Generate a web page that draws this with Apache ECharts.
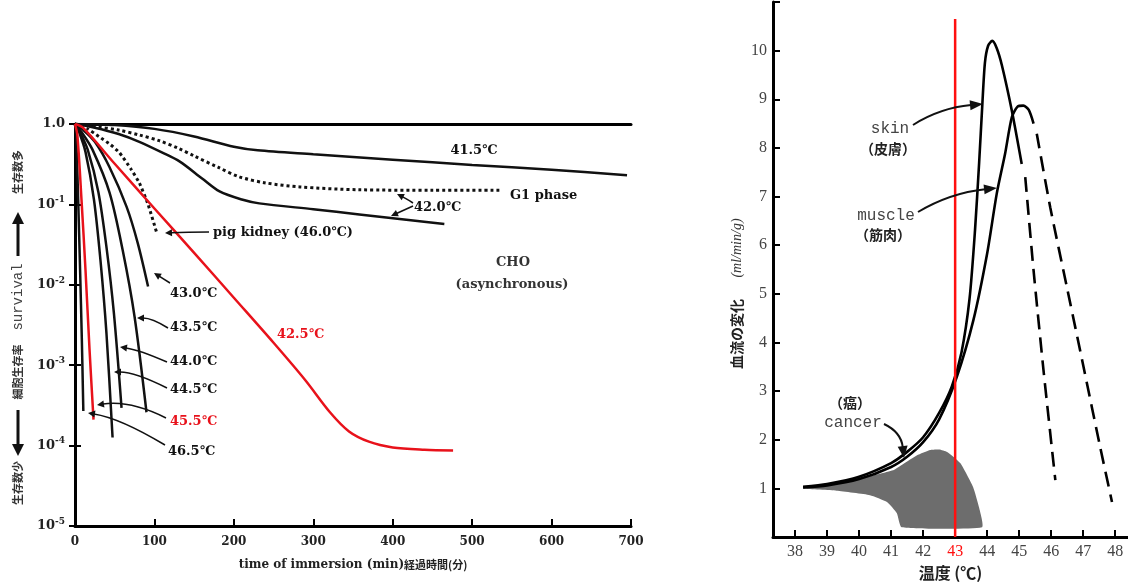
<!DOCTYPE html>
<html><head><meta charset="utf-8">
<script src="https://cdn.jsdelivr.net/npm/echarts@6/dist/echarts.min.js"></script>
<style>html,body{margin:0;padding:0;background:#fff}#c{width:1128px;height:582px}</style>
</head><body><div id="c"></div>
<script>
// ---------- Left panel: cell survival vs time of immersion (min) ----------
const timeTicks = [0, 100, 200, 300, 400, 500, 600, 700];
const c41_5 = [[0,1.0],[50,0.97],[100,0.87],[150,0.7],[200,0.52],[230,0.47],[300,0.42],[400,0.36],[500,0.31],[600,0.27],[695,0.23]];
const g1phase = [[0,1.0],[25,0.93],[55,0.84],[81,0.73],[106,0.62],[130,0.5],[150,0.4],[180,0.29],[207,0.22],[240,0.185],[283,0.165],[358,0.152],[450,0.15],[535,0.15]];
const c42_0 = [[0,1.0],[25,0.9],[55,0.75],[81,0.6],[110,0.44],[132,0.34],[160,0.21],[182,0.145],[210,0.115],[232,0.103],[300,0.087],[358,0.075],[420,0.064],[465,0.057]];
const pigKidney = [[0,1.0],[15,0.88],[30,0.7],[45,0.55],[56,0.44],[70,0.28],[81,0.185],[92,0.1],[103,0.044]];
const c42_5 = [[0,1.0],[10,0.9],[50,0.32],[100,0.089],[150,0.025],[200,0.0069],[250,0.0019],[290,6.5e-4],[321,2.6e-4],[345,1.5e-4],[370,1.12e-4],[400,9.5e-5],[440,8.9e-5],[476,8.7e-5]];
const c43_0 = [[0,1.0],[10,0.85],[25,0.6],[43.5,0.29],[65,0.093],[79,0.033],[92,0.0095]];
const c43_5 = [[0,1.0],[8,0.8],[22,0.48],[43.5,0.14],[60,0.027],[75,0.004],[90,2.6e-4]];
const c44_0 = [[0,1.0],[6,0.8],[16,0.48],[29.4,0.143],[39.7,0.029],[49,0.0044],[58.6,2.95e-4]];
const c44_5 = [[0,1.0],[5,0.8],[13.2,0.45],[23.8,0.116],[32.1,0.02],[39.6,0.0025],[47.3,1.26e-4]];
const c45_5 = [[0,1.0],[3,0.72],[8.2,0.114],[13.2,0.0154],[18.3,0.00156],[23.3,2.1e-4]];
const c46_5 = [[0,1.0],[1.6,0.63],[4,0.114],[6.4,0.0154],[8.6,0.0021],[10.5,2.7e-4]];

// ---------- Right panel: blood flow vs temperature ----------
const tempTicks = [38, 39, 40, 41, 42, 43, 44, 45, 46, 47, 48];
const flowTicks = [1, 2, 3, 4, 5, 6, 7, 8, 9, 10];
const skinSolid = [[38.25,1.03],[39,1.09],[40,1.24],[41,1.52],[41.5,1.75],[42,2.05],[42.5,2.55],[42.9,3.1],[43.2,3.8],[43.45,4.9],[43.62,6.3],[43.75,7.7],[43.85,8.9],[43.93,9.75],[44.03,10.1],[44.16,10.2],[44.3,10.05],[44.46,9.7],[44.77,8.77],[45.08,7.67]];
const skinDashed = [[45.19,7.4],[45.45,5.48],[45.76,3.43],[46.13,1.17]];
const muscleSolid = [[38.25,1.02],[39,1.06],[40,1.19],[41,1.44],[41.5,1.65],[42,1.95],[42.5,2.42],[43.05,3.29],[43.57,4.46],[44.0,5.83],[44.3,7.06],[44.56,7.88],[44.77,8.63],[44.95,8.85],[45.13,8.87],[45.3,8.78],[45.45,8.5]];
const muscleDashed = [[45.55,8.29],[45.97,6.78],[46.49,5.14],[47.01,3.5],[47.53,1.85],[47.9,0.72]];
const cancerTop = [[38.25,1.0],[39,1.08],[40.03,1.2],[41.06,1.37],[41.38,1.5],[41.81,1.68],[42.22,1.79],[42.5,1.8],[42.75,1.75],[43.16,1.52],[43.56,1.03],[43.75,0.6],[43.84,0.2]];
const cancerBottom = [[41.33,0.2],[41.18,0.49],[40.87,0.72],[40.34,0.86],[39.3,0.95],[38.25,0.99]];
const markTemp = 43;
const markTop = 10.65;

const RED = '#e8121b';
const serifB = 'bold 13px "DejaVu Serif", "Noto Sans CJK JP"';
const cjkB = 'bold 14px "Noto Sans CJK JP"';

function arrow(p0, c, p1, o) {
  o = o || {};
  const w = o.w || 1.5, hl = o.hl || 7, hw = o.hw || 3.5, color = o.color || '#111';
  let dx = p1[0] - c[0], dy = p1[1] - c[1];
  const L = Math.hypot(dx, dy); dx /= L; dy /= L;
  const bx = p1[0] - dx * hl, by = p1[1] - dy * hl;
  return [
    {type: 'bezierCurve', silent: true, z: 50,
     shape: {x1: p0[0], y1: p0[1], x2: bx + dx, y2: by + dy, cpx1: c[0], cpy1: c[1]},
     style: {stroke: color, lineWidth: w, fill: 'none'}},
    {type: 'polygon', silent: true, z: 50,
     shape: {points: [[p1[0], p1[1]], [bx - dy * hw, by + dx * hw], [bx + dy * hw, by - dx * hw]]},
     style: {fill: color}}
  ];
}
function txt(s, x, y, font, fill, align, rot) {
  return {type: 'text', x: x, y: y, rotation: rot || 0, silent: true, z: 50,
    style: {text: s, font: font, fill: fill || '#111',
      align: align || 'left', verticalAlign: 'middle',
      textAlign: align || 'left', textVerticalAlign: 'middle'}};
}

const graphics = [].concat(
  // left annotations
  [txt('41.5℃', 474, 151, serifB, '#111', 'center'),
   txt('G1 phase', 510, 196, serifB),
   txt('42.0℃', 414, 208, serifB),
   txt('pig kidney (46.0℃)', 213, 233, serifB),
   txt('CHO', 513, 263, serifB, '#333', 'center'),
   txt('(asynchronous)', 512, 285, serifB, '#333', 'center'),
   txt('43.0℃', 170, 294, serifB),
   txt('43.5℃', 170, 328, serifB),
   txt('44.0℃', 170, 362, serifB),
   txt('44.5℃', 170, 390, serifB),
   txt('45.5℃', 170, 422, serifB, RED),
   txt('46.5℃', 168, 452, serifB),
   txt('42.5℃', 277, 335, serifB, RED)],
  arrow([209,232],[187,232],[165,233]),
  arrow([170,283],[162,278],[154,273]),
  arrow([168,328],[152,318],[137,318]),
  arrow([167,362],[140,350],[120,347]),
  arrow([167,388],[135,372],[114,372]),
  arrow([166,418],[130,400],[97,405]),
  arrow([165,445],[120,418],[88,413]),
  arrow([413,203],[405,198],[397,194]),
  arrow([413,206],[402,211],[391,216]),
  // left y title
  [txt('生存数多', 18, 172, 'bold 11px "Noto Sans CJK JP"', '#333', 'center', Math.PI / 2),
   txt('survival', 18, 297, '14px "Liberation Mono"', '#444', 'center', Math.PI / 2),
   txt('細胞生存率', 18, 372, 'bold 11px "Noto Sans CJK JP"', '#333', 'center', Math.PI / 2),
   txt('生存数少', 18, 483, 'bold 11px "Noto Sans CJK JP"', '#333', 'center', Math.PI / 2)],
  arrow([18,256],[18,235],[18,212],{w:3,hl:12,hw:6}),
  arrow([18,410],[18,430],[18,456],{w:3,hl:12,hw:6}),
  // right annotations
  [txt('skin', 890, 129, '16px "Liberation Mono"', '#444', 'center'),
   txt('（皮膚）', 888, 149, cjkB, '#222', 'center'),
   txt('muscle', 886, 216, '16px "Liberation Mono"', '#444', 'center'),
   txt('（筋肉）', 883, 235, cjkB, '#222', 'center'),
   txt('（癌）', 850, 403, cjkB, '#222', 'center'),
   txt('cancer', 853, 423, '16px "Liberation Mono"', '#444', 'center'),
   txt('血流の変化', 737, 334, 'bold 14px "Noto Sans CJK JP"', '#222', 'center', Math.PI / 2),
   txt('(ml/min/g)', 737, 248, 'italic 14px "Liberation Serif"', '#333', 'center', Math.PI / 2)],
  arrow([913,125],[940,108],[983,104],{w:2,hl:13,hw:5}),
  arrow([918,212],[950,193],[997,188],{w:2,hl:13,hw:5}),
  arrow([884,424],[901,432],[904,458],{w:2,hl:12,hw:5})
);

function lineS(data, color, extra) {
  return Object.assign({type: 'line', data: data, xAxisIndex: 0, yAxisIndex: 0,
    showSymbol: false, symbol: 'none', smooth: 0.3, z: 3,
    lineStyle: {color: color, width: 2.5}}, extra || {});
}
const dotted = {color: '#111', width: 3, type: [3, 3], cap: 'butt'};

const chart = echarts.init(document.getElementById('c'), null, {renderer: 'canvas'});
chart.setOption({
  animation: false,
  backgroundColor: '#fff',
  grid: [
    {left: 75, top: 124, width: 556, height: 402, containLabel: false, outerBoundsMode: 'none'},
    {left: 773, top: 2, right: 0, height: 535, containLabel: false, outerBoundsMode: 'none'}
  ],
  xAxis: [
    {type: 'value', gridIndex: 0, min: 0, max: 700, interval: 100, position: 'bottom',
     axisLine: {lineStyle: {color: '#000', width: 3}},
     axisTick: {inside: true, length: 7, lineStyle: {color: '#000', width: 2}},
     axisLabel: {margin: 10, color: '#222', fontFamily: 'DejaVu Serif', fontWeight: 'bold', fontSize: 12,
       formatter: v => timeTicks.includes(v) ? String(v) : ''},
     splitLine: {show: false},
     name: 'time of immersion (min){j|経過時間(分)}', nameLocation: 'middle', nameGap: 33,
     nameTextStyle: {color: '#222', fontFamily: 'DejaVu Serif', fontWeight: 'bold', fontSize: 12,
       rich: {j: {fontFamily: 'Noto Sans CJK JP', fontWeight: 'bold', fontSize: 11, color: '#222'}}}},
    {type: 'value', gridIndex: 0, min: 0, max: 700, position: 'top',
     axisLine: {lineStyle: {color: '#000', width: 3}}, axisTick: {show: false},
     axisLabel: {show: false}, splitLine: {show: false}},
    {type: 'value', gridIndex: 1, min: 37.31, max: 48.4, position: 'bottom',
     axisLine: {lineStyle: {color: '#000', width: 3}},
     axisTick: {inside: true, length: 7, customValues: tempTicks, lineStyle: {color: '#000', width: 2}},
     axisLabel: {margin: 7, customValues: tempTicks, color: '#444', fontFamily: 'Liberation Serif', fontSize: 16,
       formatter: v => v === markTemp ? '{r|' + v + '}' : String(v),
       rich: {r: {color: '#ff1010', fontFamily: 'Liberation Serif', fontSize: 16}}},
     splitLine: {show: false},
     name: '温度 (℃)', nameLocation: 'middle', nameGap: 26,
     nameTextStyle: {color: '#222', fontFamily: 'Noto Sans CJK JP', fontWeight: 'bold', fontSize: 16}}
  ],
  yAxis: [
    {type: 'log', logBase: 10, gridIndex: 0, min: 1e-5, max: 1,
     axisLine: {show: true, lineStyle: {color: '#000', width: 3}},
     axisTick: {show: true, inside: true, length: 6, lineStyle: {color: '#000', width: 2}},
     minorTick: {show: false},
     axisLabel: {margin: 10, color: '#222', fontFamily: 'DejaVu Serif', fontWeight: 'bold', fontSize: 13,
       formatter: v => {
         const e = Math.round(Math.log10(v));
         return e === 0 ? '1.0' : '10{s|' + e + '}';
       },
       rich: {s: {fontFamily: 'DejaVu Serif', fontWeight: 'bold', fontSize: 9, color: '#222', padding: [0, 0, 9, 0]}}},
     splitLine: {show: false}},
    {type: 'log', logBase: 10, gridIndex: 0, min: 1e-5, max: 1, position: 'right',
     axisLine: {show: true, lineStyle: {color: '#000', width: 2.5}},
     axisTick: {show: true, inside: true, length: 6, lineStyle: {color: '#000', width: 2}},
     axisLabel: {show: false}, splitLine: {show: false}},
    {type: 'value', gridIndex: 1, min: 0, max: 11,
     axisLine: {show: true, lineStyle: {color: '#000', width: 3}},
     axisTick: {show: true, inside: true, length: 7, customValues: flowTicks.concat([11]), lineStyle: {color: '#000', width: 2}},
     axisLabel: {margin: 6, customValues: flowTicks, color: '#444', fontFamily: 'Liberation Serif', fontSize: 16},
     splitLine: {show: false}}
  ],
  series: [
    lineS(c41_5, '#111'),
    lineS(g1phase, '#111', {lineStyle: dotted}),
    lineS(c42_0, '#111'),
    lineS(pigKidney, '#111', {lineStyle: dotted, smooth: 0.15}),
    lineS(c43_0, '#111'),
    lineS(c43_5, '#111'),
    lineS(c44_0, '#111'),
    lineS(c44_5, '#111'),
    lineS(c46_5, '#111'),
    lineS(c45_5, RED, {z: 4}),
    lineS(c42_5, RED, {z: 4}),
    {type: 'custom', xAxisIndex: 2, yAxisIndex: 2, z: 1, silent: true,
     data: [cancerTop[0]],
     renderItem: (params, api) => {
       const pts = cancerTop.concat(cancerBottom).map(p => api.coord(p));
       return {type: 'polygon', shape: {points: pts, smooth: 0.15}, style: {fill: '#6d6d6d'}};
     }},
    {type: 'line', xAxisIndex: 2, yAxisIndex: 2, data: skinSolid, showSymbol: false, smooth: 0.25, z: 3,
     lineStyle: {color: '#000', width: 2.6}},
    {type: 'line', xAxisIndex: 2, yAxisIndex: 2, data: skinDashed, showSymbol: false, smooth: 0.2, z: 3,
     lineStyle: {color: '#000', width: 2.6, type: [15, 8]}},
    {type: 'line', xAxisIndex: 2, yAxisIndex: 2, data: muscleSolid, showSymbol: false, smooth: 0.25, z: 3,
     lineStyle: {color: '#000', width: 2.6}},
    {type: 'line', xAxisIndex: 2, yAxisIndex: 2, data: muscleDashed, showSymbol: false, smooth: 0.2, z: 3,
     lineStyle: {color: '#000', width: 2.6, type: [15, 8]}},
    {type: 'line', xAxisIndex: 2, yAxisIndex: 2, data: [[markTemp, 0], [markTemp, markTop]], showSymbol: false, z: 5,
     lineStyle: {color: '#ff1010', width: 2.5}}
  ],
  graphic: {elements: graphics}
});
</script></body></html>
